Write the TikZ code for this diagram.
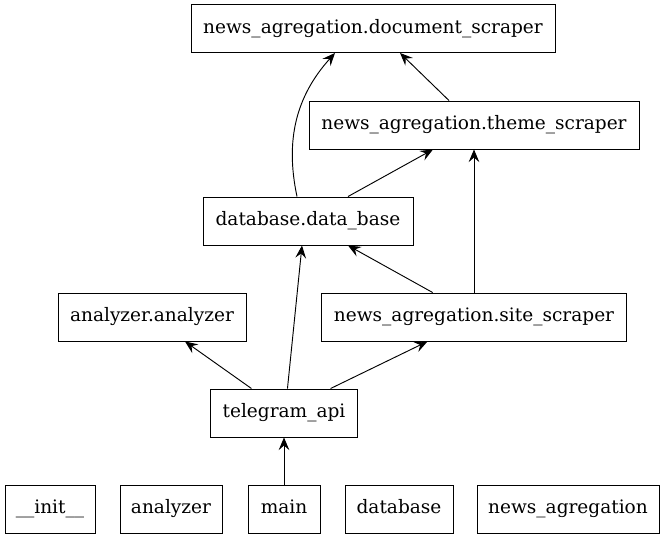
\documentclass[tikz,border=0pt]{standalone}
\usepackage{fontspec}
\setmainfont{DejaVu Serif}
\usetikzlibrary{arrows.meta}
\begin{document}
\begin{tikzpicture}[x=0.75pt,y=-0.75pt,
  box/.style={draw, line width=0.7pt, rectangle, inner sep=0pt, minimum height=36pt, text height=10pt, text depth=3pt, font=\fontsize{13.9}{16}\selectfont},
  dep/.style={draw, line width=0.7pt, -{Stealth[length=9.5pt,width=8pt,inset=3.5pt]}}]
\useasboundingbox (0,0) rectangle (665,539);
\node[box, minimum width=273pt] (doc) at (373,28.5) {news\_agregation.document\_scraper};
\node[box, minimum width=247.5pt] (theme) at (474,125) {news\_agregation.theme\_scraper};
\node[box, minimum width=157.5pt] (db) at (308,221) {database.data\_base};
\node[box, minimum width=141pt] (an) at (152,317) {analyzer.analyzer};
\node[box, minimum width=228.75pt] (site) at (474,317) {news\_agregation.site\_scraper};
\node[box, minimum width=110.25pt] (tg) at (284,413) {telegram\_api};
\node[box, minimum width=67.5pt] (init) at (50,509) {\_\_init\_\_};
\node[box, minimum width=76.5pt] (anm) at (171,509) {analyzer};
\node[box, minimum width=54pt] (main) at (284,509) {main};
\node[box, minimum width=81pt] (dbm) at (399,509) {database};
\node[box, minimum width=136.5pt] (na) at (568,509) {news\_agregation};
\draw[dep] ([xshift=-18.75pt]theme.north) -- ([xshift=20.25pt]doc.south);
\draw[dep] ([xshift=-8.25pt]db.north) to[out=102,in=228] ([xshift=-28.5pt]doc.south);
\draw[dep] ([xshift=30pt]db.north) -- ([xshift=-30.75pt]theme.south);
\draw[dep] (site.north) -- (theme.south);
\draw[dep] ([xshift=-31pt]site.north) -- ([xshift=30pt]db.south);
\draw[dep] ([xshift=-24.4pt]tg.north) -- ([xshift=24.75pt]an.south);
\draw[dep] ([xshift=2.6pt]tg.north) -- ([xshift=-4.5pt]db.south);
\draw[dep] ([xshift=34.9pt]tg.north) -- ([xshift=-34.9pt]site.south);
\draw[dep] (main.north) -- (tg.south);
\end{tikzpicture}
\end{document}
